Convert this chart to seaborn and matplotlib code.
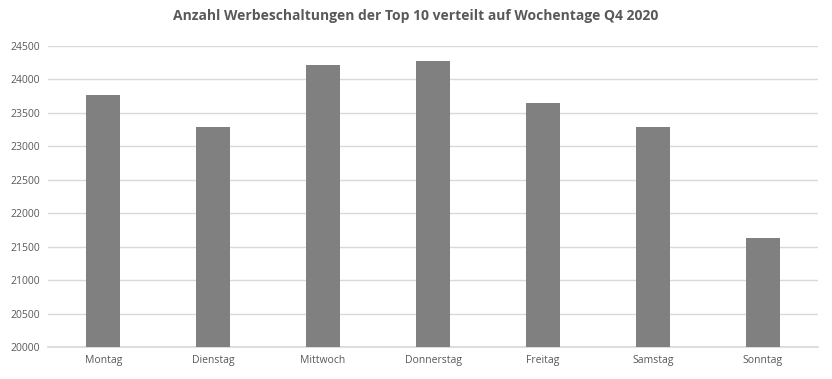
import matplotlib
matplotlib.use("Agg")
import matplotlib.pyplot as plt
import seaborn as sns
import pandas as pd

days = ["Montag", "Dienstag", "Mittwoch", "Donnerstag", "Freitag", "Samstag", "Sonntag"]
counts = [23760, 23290, 24210, 24270, 23640, 23290, 21630]
title = "Anzahl Werbeschaltungen der Top 10 verteilt auf Wochentage Q4 2020"
yticks = [20000, 20500, 21000, 21500, 22000, 22500, 23000, 23500, 24000, 24500]

sns.set_theme(style="white")
plt.rcParams['font.family'] = ['Open Sans', 'DejaVu Sans']

df = pd.DataFrame({"Tag": days, "Anzahl": counts})

fig = plt.figure(figsize=(8.32, 3.79), dpi=100)
ax = fig.add_axes([0.058, 0.0844, 0.925, 0.7946])
sns.barplot(data=df, x="Tag", y="Anzahl", color="#808080", width=0.31,
            saturation=1, linewidth=0, ax=ax, zorder=3)
ax.set_ylim(20000, 24500)
ax.set_yticks(yticks)
ax.set_yticklabels([str(t) for t in yticks])
ax.yaxis.grid(True, color="#d9d9d9", linewidth=1, zorder=0)
ax.set_axisbelow(True)
for s in ["top", "right", "left"]:
    ax.spines[s].set_visible(False)
ax.spines["bottom"].set_color("#d9d9d9")
ax.set_xlabel("")
ax.set_ylabel("")
ax.tick_params(axis="both", length=0, labelsize=7.5, labelcolor="#595959", pad=6)
ax.set_xlim(-0.5, 6.5)
fig.suptitle(title, y=0.975, fontsize=10, fontweight="bold", color="#595959")
fig.savefig("out.png", dpi=100)
